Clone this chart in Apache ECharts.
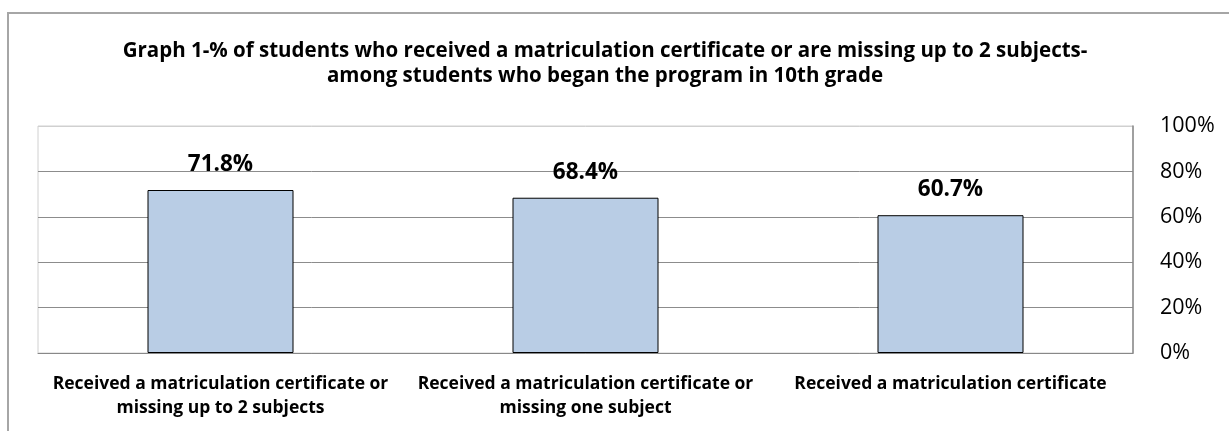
<!DOCTYPE html>
<html>
<head>
<meta charset="utf-8">
<script src="https://cdn.jsdelivr.net/npm/echarts@6/dist/echarts.min.js"></script>
<style>
html,body{margin:0;padding:0;background:#fff;}
#chart{width:1229px;height:431px;}
</style>
</head>
<body>
<div id="chart"></div>
<script>
const titleText = "Graph 1-% of students who received a matriculation certificate or are missing up to 2 subjects-\namong students who began the program in 10th grade";
const categories = [
  "Received a matriculation certificate or\nmissing up to 2 subjects",
  "Received a matriculation certificate or\nmissing one subject",
  "Received a matriculation certificate"
];
const values = [0.718, 0.684, 0.607];
const yTicks = [0, 0.2, 0.4, 0.6, 0.8, 1.0];

const FONT = "Open Sans";
const chart = echarts.init(document.getElementById('chart'));
chart.setOption({
  animation: false,
  backgroundColor: '#fff',
  graphic: [{
    type: 'rect',
    shape: {x: 8, y: 13, width: 1400, height: 600},
    style: {fill: 'none', stroke: '#a6a6a6', lineWidth: 2},
    silent: true
  }],
  title: {
    text: titleText,
    left: 600,
    top: 34,
    textAlign: 'center',
    textStyle: {fontFamily: FONT, fontWeight: 'bold', fontSize: 20.5, lineHeight: 25, color: '#000'}
  },
  grid: {
    left: 38, right: 96, top: 126, bottom: 78,
    show: true, borderColor: '#d0d0d0', borderWidth: 1, backgroundColor: '#fff'
  },
  xAxis: {
    type: 'category',
    data: categories,
    axisLine: {show: true, lineStyle: {color: '#888', width: 1}},
    axisTick: {show: false},
    axisLabel: {
      interval: 0, margin: 19, lineHeight: 24,
      fontFamily: FONT, fontWeight: 'bold', fontSize: 17.5, color: '#000'
    }
  },
  yAxis: {
    type: 'value',
    position: 'right',
    min: yTicks[0], max: yTicks[yTicks.length - 1], interval: 0.2,
    axisLine: {show: true, lineStyle: {color: '#888', width: 1.5}},
    axisTick: {show: false},
    splitLine: {show: true, lineStyle: {color: ['#8c8c8c','#8c8c8c','#8c8c8c','#8c8c8c','#8c8c8c','#d0d0d0'], width: 1}},
    axisLabel: {
      margin: 27, fontFamily: FONT, fontSize: 21.5, color: '#000',
      formatter: v => Math.round(v * 100) + '%'
    }
  },
  series: [{
    type: 'bar',
    data: values,
    barWidth: '40%',
    itemStyle: {color: '#b9cde5', borderColor: '#000', borderWidth: 1},
    label: {
      show: true, position: 'top', distance: 14,
      fontFamily: FONT, fontWeight: 'bold', fontSize: 22.5, color: '#000',
      formatter: p => (p.value * 100).toFixed(1) + '%'
    }
  }]
});
</script>
</body>
</html>
